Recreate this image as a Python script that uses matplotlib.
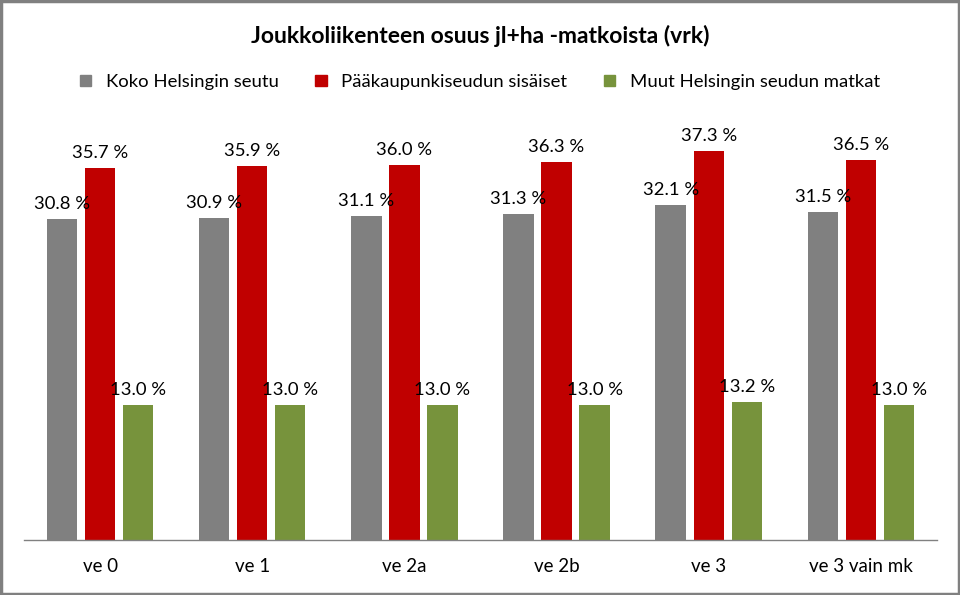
import matplotlib
matplotlib.use("Agg")
import matplotlib.pyplot as plt
from matplotlib.patches import Patch, Rectangle
import numpy as np

plt.rcParams['font.family'] = ['Lato', 'DejaVu Sans']

categories = ["ve 0", "ve 1", "ve 2a", "ve 2b", "ve 3", "ve 3 vain mk"]
series_names = ["Koko Helsingin seutu", "Pääkaupunkiseudun sisäiset", "Muut Helsingin seudun matkat"]
koko = [30.8, 30.9, 31.1, 31.3, 32.1, 31.5]
pks = [35.7, 35.9, 36.0, 36.3, 37.3, 36.5]
muut = [13.0, 13.0, 13.0, 13.0, 13.2, 13.0]
colors = ["#808080", "#C00000", "#77933C"]

fig = plt.figure(figsize=(9.6, 5.95), dpi=100)
ax = fig.add_axes([0.025, 0.0924, 0.951, 0.7008])

x = np.arange(len(categories))
width = 0.2
offsets = [-0.25, 0, 0.25]
for vals, off, col in zip([koko, pks, muut], offsets, colors):
    bars = ax.bar(x + off, vals, width, color=col)
    for b, v in zip(bars, vals):
        ax.annotate(f"{v:.1f} %", (b.get_x() + b.get_width() / 2, v),
                    xytext=(0, 5), textcoords="offset points",
                    ha="center", va="bottom", fontsize=13.3, color="#000000")

ax.set_xlim(-0.5, len(categories) - 0.5)
ax.set_ylim(0, 40)
ax.set_yticks([])
ax.set_xticks(x)
ax.set_xticklabels(categories, fontsize=13.5)
ax.tick_params(axis="x", length=0, pad=13)
for s in ["top", "right", "left"]:
    ax.spines[s].set_visible(False)
ax.spines["bottom"].set_color("#808080")
ax.spines["bottom"].set_linewidth(1)

fig.text(0.5, 0.94, "Joukkoliikenteen osuus jl+ha -matkoista (vrk)",
         ha="center", va="center", fontsize=16.5, fontweight="bold")

handles = [Patch(color=c, label=n) for c, n in zip(colors, series_names)]
fig.legend(handles=handles, loc="center", bbox_to_anchor=(0.5, 0.862), ncol=3,
           frameon=False, fontsize=13.3, handlelength=0.6, handleheight=0.6,
           handletextpad=0.8, columnspacing=2.0)

fig.patches.append(Rectangle((0.0015, 0.0025), 0.997, 0.995, transform=fig.transFigure,
                             fill=False, edgecolor="#808080", linewidth=2.5))

fig.savefig("out.png", dpi=100)
